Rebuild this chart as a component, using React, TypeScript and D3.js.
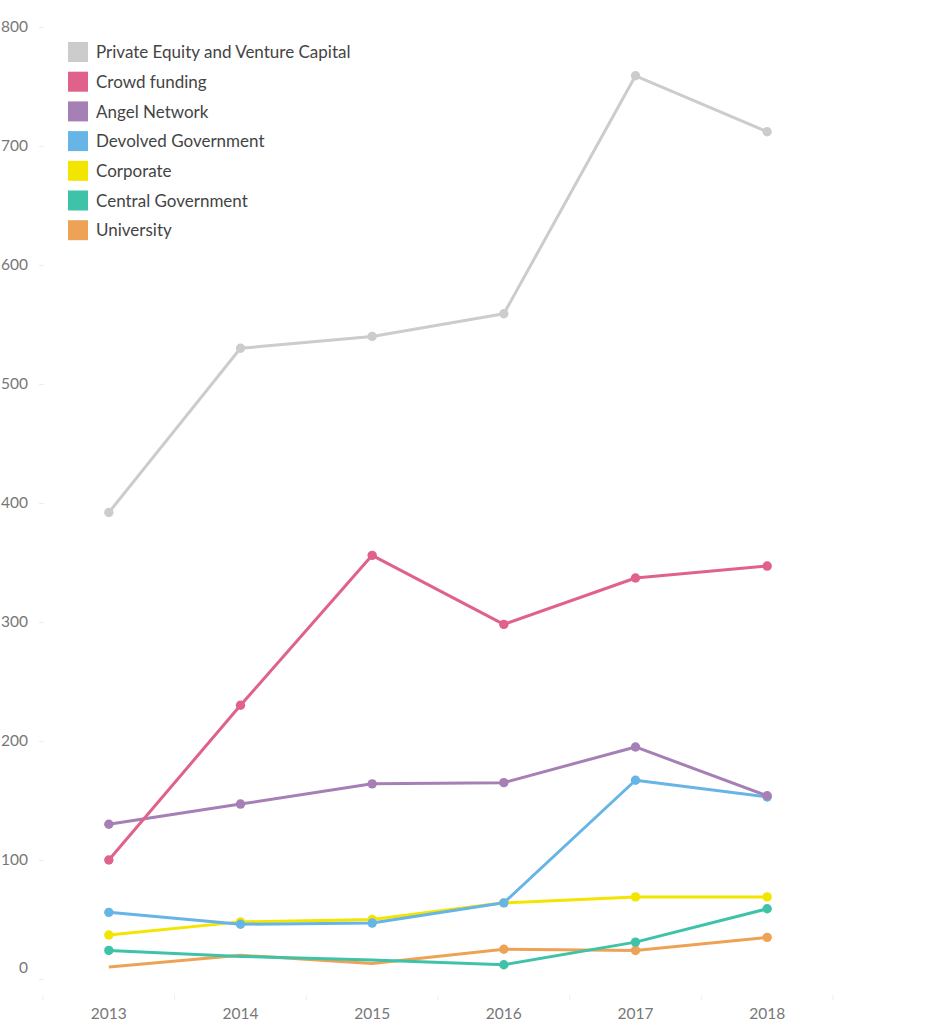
import * as d3 from 'd3';
import React, { useEffect, useRef } from 'react';

const years = ['2013', '2014', '2015', '2016', '2017', '2018'];

const privateEquity = [392, 530, 540, 559, 759, 712];
const crowdFunding = [100, 230, 356, 298, 337, 347];
const angelNetwork = [130, 147, 164, 165, 195, 154];
const devolvedGov = [56, 46, 47, 64, 167, 153];
const corporate = [37, 48, 50, 64, 69, 69];
const centralGov = [24, 19, 16, 12, 31, 59];
const university = [10, 20, 13, 25, 24, 35];

// points the original leaves without a dot
const centralGovDots = [true, false, false, true, true, true];
const universityDots = [false, false, false, true, true, true];
const allDots = [true, true, true, true, true, true];

const seriesNames = [
    'Private Equity and Venture Capital',
    'Crowd funding',
    'Angel Network',
    'Devolved Government',
    'Corporate',
    'Central Government',
    'University',
];
const seriesColors = ['#cccccc', '#e0628a', '#a67fb6', '#66b5e6', '#f2e500', '#3ec3a8', '#eea256'];
const seriesValues = [privateEquity, crowdFunding, angelNetwork, devolvedGov, corporate, centralGov, university];
const seriesDots = [allDots, allDots, allDots, allDots, allDots, centralGovDots, universityDots];

const yTicks = [0, 100, 200, 300, 400, 500, 600, 700, 800];

export default () => {
    const ref = useRef<any>();

    useEffect(() => {
        const svg = d3.select<any, any>(ref.current);
        svg.selectAll('*').remove();

        const font = 'Lato, "Open Sans", sans-serif';

        const xScale = d3.scaleBand().domain(years).range([43, 833]);
        const yScale = d3.scaleLinear().domain([0, 800]).range([979, 27]);
        const xPos = (y: string) => (xScale(y) as number) + xScale.bandwidth() / 2;

        // y axis
        const yAxis = svg.append('g').attr('transform', 'translate(44, 0)')
            .call(d3.axisLeft(yScale).tickValues(yTicks).tickSize(5).tickPadding(11));
        yAxis.select('.domain').remove();
        yAxis.selectAll('.tick line').attr('stroke', '#eeeeee');
        yAxis.selectAll('.tick text')
            .attr('fill', '#777')
            .style('font-family', font)
            .style('font-size', '15.5px')
            .attr('dy', (d: any) => (d === 0 ? '-0.4em' : '0.32em'));

        // x axis
        const xAxis = svg.append('g').attr('transform', 'translate(0, 995)')
            .call(d3.axisBottom(xScale).tickSize(0).tickPadding(13));
        xAxis.select('.domain').remove();
        xAxis.selectAll('.tick text')
            .attr('fill', '#777')
            .style('font-family', font)
            .style('font-size', '15.5px');
        const bounds = [...years.map((y) => xScale(y) as number), 833];
        svg.append('g').selectAll('line').data(bounds).join('line')
            .attr('x1', (d) => d).attr('x2', (d) => d)
            .attr('y1', 995).attr('y2', 1000)
            .attr('stroke', '#eeeeee');

        // lines
        const line = d3.line<number>()
            .x((_, i) => xPos(years[i]))
            .y((d) => yScale(d));

        const order = [6, 5, 4, 3, 2, 1, 0];
        order.forEach((si) => {
            const vals = seriesValues[si];
            const color = seriesColors[si];
            const g = svg.append('g');
            g.append('path')
                .attr('d', line(vals) as string)
                .attr('fill', 'none')
                .attr('stroke', color)
                .attr('stroke-width', 3)
                .attr('stroke-linejoin', 'round');
            g.selectAll('circle')
                .data(vals.map((v, i) => ({ v, i })).filter((d) => seriesDots[si][d.i]))
                .join('circle')
                .attr('cx', (d) => xPos(years[d.i]))
                .attr('cy', (d) => yScale(d.v))
                .attr('r', 4.7)
                .attr('fill', color);
        });

        // legend
        const legend = svg.append('g').attr('transform', 'translate(68, 42)');
        const rows = legend.selectAll('g').data(seriesNames).join('g')
            .attr('transform', (_, i) => `translate(0, ${i * 29.7})`);
        rows.append('rect')
            .attr('width', 20).attr('height', 20)
            .attr('fill', (_, i) => seriesColors[i]);
        rows.append('text')
            .attr('x', 28).attr('y', 10).attr('dy', '0.37em')
            .attr('fill', '#444')
            .style('font-family', font)
            .style('font-size', '17px')
            .text((d) => d);
    });

    return (
        <svg
            ref={ref}
            width={937}
            height={1024}
            style={{ position: 'absolute', left: 0, top: 0, background: '#fff' }}
        ></svg>
    );
};
